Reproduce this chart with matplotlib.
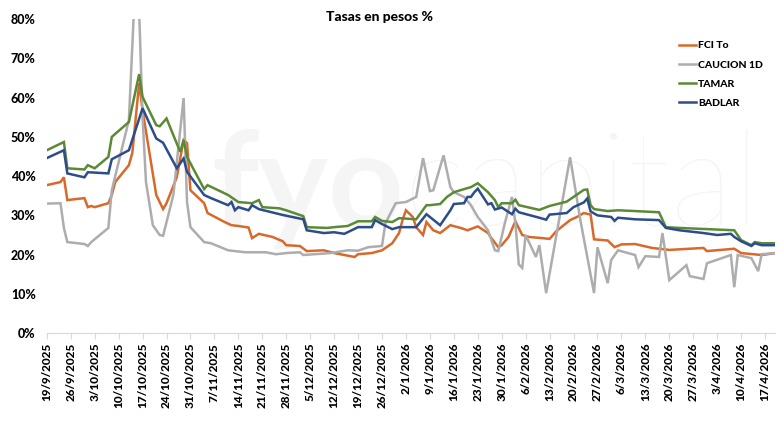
import matplotlib
matplotlib.use("Agg")
import matplotlib.pyplot as plt
from matplotlib.ticker import FuncFormatter, MultipleLocator
import pandas as pd

# datos (% TNA)
fci_fechas = ["2025-09-19", "2025-09-23", "2025-09-24", "2025-09-25", "2025-09-30", "2025-10-01",
              "2025-10-02", "2025-10-03", "2025-10-07", "2025-10-08", "2025-10-09", "2025-10-13",
              "2025-10-14", "2025-10-16", "2025-10-17", "2025-10-21", "2025-10-23", "2025-10-24",
              "2025-10-27", "2025-10-29", "2025-10-30", "2025-10-31", "2025-11-04", "2025-11-05",
              "2025-11-10", "2025-11-12", "2025-11-14", "2025-11-17", "2025-11-18", "2025-11-20",
              "2025-11-24", "2025-11-27", "2025-11-28", "2025-12-02", "2025-12-04", "2025-12-09",
              "2025-12-12", "2025-12-15", "2025-12-18", "2025-12-19", "2025-12-23", "2025-12-26",
              "2025-12-29", "2025-12-31", "2026-01-01", "2026-01-02", "2026-01-04", "2026-01-05",
              "2026-01-07", "2026-01-08", "2026-01-10", "2026-01-12", "2026-01-15", "2026-01-18",
              "2026-01-20", "2026-01-23", "2026-01-26", "2026-01-27", "2026-01-29", "2026-01-30",
              "2026-02-01", "2026-02-03", "2026-02-05", "2026-02-07", "2026-02-11", "2026-02-13",
              "2026-02-15", "2026-02-19", "2026-02-21", "2026-02-23", "2026-02-25", "2026-02-26",
              "2026-03-02", "2026-03-04", "2026-03-06", "2026-03-10", "2026-03-15", "2026-03-20",
              "2026-03-30", "2026-03-31", "2026-04-08", "2026-04-10", "2026-04-16", "2026-04-20"]
fci = [37.7, 38.5, 39.7, 33.9, 34.4, 32.1,
       32.4, 32.1, 33.1, 35.2, 38.5, 42.8,
       45.9, 63.7, 56.8, 35.2, 31.6, 33.1,
       39.7, 49.2, 48.4, 36.4, 33.1, 30.6,
       28.3, 27.5, 27.3, 26.9, 24.2, 25.3,
       24.5, 23.4, 22.4, 22.2, 20.9, 21.1,
       20.4, 19.9, 19.4, 20.1, 20.4, 21.1,
       22.9, 25.5, 28.8, 31.3, 29.6, 27.0,
       25.0, 28.3, 26.2, 25.5, 27.5, 26.8,
       26.2, 27.2, 25.5, 24.2, 21.9, 22.4,
       24.5, 28.5, 25.0, 24.5, 24.2, 24.0,
       26.0, 28.8, 29.6, 30.6, 30.2, 23.9,
       23.6, 21.9, 22.6, 22.7, 21.7, 21.2,
       21.7, 20.9, 21.5, 20.4, 19.9, 20.4]

caucion_fechas = ["2025-09-19", "2025-09-23", "2025-09-24", "2025-09-25", "2025-09-30", "2025-10-01",
                  "2025-10-02", "2025-10-07", "2025-10-08", "2025-10-13", "2025-10-15", "2025-10-16",
                  "2025-10-17", "2025-10-18", "2025-10-20", "2025-10-22", "2025-10-23", "2025-10-26",
                  "2025-10-29", "2025-10-30", "2025-10-31", "2025-11-04", "2025-11-06", "2025-11-11",
                  "2025-11-16", "2025-11-22", "2025-11-25", "2025-11-28", "2025-12-02", "2025-12-03",
                  "2025-12-11", "2025-12-16", "2025-12-19", "2025-12-22", "2025-12-26", "2025-12-27",
                  "2025-12-30", "2026-01-02", "2026-01-05", "2026-01-07", "2026-01-09", "2026-01-10",
                  "2026-01-13", "2026-01-15", "2026-01-16", "2026-01-19", "2026-01-21", "2026-01-23",
                  "2026-01-26", "2026-01-28", "2026-01-29", "2026-01-31", "2026-02-02", "2026-02-03",
                  "2026-02-04", "2026-02-05", "2026-02-06", "2026-02-09", "2026-02-10", "2026-02-12",
                  "2026-02-19", "2026-02-22", "2026-02-26", "2026-02-27", "2026-03-02", "2026-03-03",
                  "2026-03-05", "2026-03-10", "2026-03-11", "2026-03-13", "2026-03-17", "2026-03-18",
                  "2026-03-20", "2026-03-25", "2026-03-26", "2026-03-30", "2026-03-31", "2026-04-07",
                  "2026-04-08", "2026-04-09", "2026-04-13", "2026-04-15", "2026-04-16", "2026-04-20"]
caucion = [33.0, 33.1, 26.8, 23.2, 22.7, 22.2,
           23.2, 26.8, 36.4, 54.3, 92.0, 82.0,
           55.0, 38.5, 27.5, 25.0, 24.8, 35.2,
           59.9, 33.4, 27.0, 23.2, 22.9, 21.1,
           20.6, 20.6, 20.1, 20.4, 20.6, 19.9,
           20.4, 21.1, 21.0, 21.9, 22.2, 28.0,
           33.1, 33.4, 34.7, 44.6, 36.2, 36.4,
           45.3, 37.2, 35.9, 34.7, 32.6, 29.6,
           26.2, 21.1, 20.9, 28.3, 34.7, 28.0,
           17.5, 16.6, 25.0, 19.4, 22.4, 10.2,
           44.8, 28.8, 10.2, 21.9, 12.7, 18.6,
           21.1, 19.9, 16.8, 19.6, 19.4, 25.5,
           13.5, 17.3, 14.5, 13.8, 17.8, 19.9,
           11.7, 19.9, 19.1, 15.8, 20.1, 20.4]

tamar_fechas = ["2025-09-19", "2025-09-24", "2025-09-25", "2025-09-30", "2025-10-01", "2025-10-03",
                "2025-10-07", "2025-10-08", "2025-10-13", "2025-10-16", "2025-10-17", "2025-10-21",
                "2025-10-22", "2025-10-24", "2025-10-28", "2025-10-29", "2025-10-30", "2025-11-04",
                "2025-11-05", "2025-11-11", "2025-11-14", "2025-11-18", "2025-11-20", "2025-11-21",
                "2025-11-26", "2025-11-28", "2025-12-03", "2025-12-04", "2025-12-10", "2025-12-12",
                "2025-12-16", "2025-12-19", "2025-12-23", "2025-12-24", "2025-12-26", "2025-12-29",
                "2025-12-31", "2026-01-05", "2026-01-08", "2026-01-09", "2026-01-12", "2026-01-14",
                "2026-01-16", "2026-01-19", "2026-01-21", "2026-01-23", "2026-01-26", "2026-01-28",
                "2026-01-29", "2026-01-30", "2026-02-02", "2026-02-03", "2026-02-04", "2026-02-10",
                "2026-02-13", "2026-02-18", "2026-02-20", "2026-02-23", "2026-02-24", "2026-02-25",
                "2026-02-26", "2026-03-02", "2026-03-05", "2026-03-10", "2026-03-17", "2026-03-19",
                "2026-03-23", "2026-04-08", "2026-04-10", "2026-04-13", "2026-04-14", "2026-04-16",
                "2026-04-20"]
tamar = [46.6, 48.7, 42.0, 41.7, 42.8, 42.0,
         44.9, 50.0, 53.8, 66.0, 60.2, 53.0,
         52.7, 54.7, 46.2, 49.2, 44.9, 36.7,
         37.7, 35.2, 33.4, 33.1, 33.9, 32.1,
         31.8, 31.3, 29.8, 27.0, 26.8, 27.0,
         27.3, 28.5, 28.5, 29.6, 28.6, 28.3,
         29.3, 29.0, 32.6, 32.6, 32.9, 34.7,
         35.9, 36.7, 37.2, 38.2, 35.9, 33.9,
         32.1, 33.1, 33.1, 34.0, 32.6, 31.4,
         32.4, 33.5, 34.7, 36.5, 36.6, 32.6,
         31.6, 31.1, 31.3, 31.1, 30.8, 27.0,
         26.8, 26.2, 23.7, 22.4, 23.2, 22.9,
         22.9]

badlar_fechas = ["2025-09-19", "2025-09-24", "2025-09-25", "2025-09-30", "2025-10-01", "2025-10-07",
                 "2025-10-08", "2025-10-13", "2025-10-17", "2025-10-21", "2025-10-23", "2025-10-27",
                 "2025-10-29", "2025-10-30", "2025-11-04", "2025-11-06", "2025-11-11", "2025-11-12",
                 "2025-11-13", "2025-11-14", "2025-11-17", "2025-11-18", "2025-11-20", "2025-11-27",
                 "2025-12-03", "2025-12-04", "2025-12-09", "2025-12-12", "2025-12-15", "2025-12-19",
                 "2025-12-23", "2025-12-24", "2025-12-26", "2025-12-29", "2025-12-31", "2026-01-05",
                 "2026-01-08", "2026-01-09", "2026-01-12", "2026-01-15", "2026-01-16", "2026-01-19",
                 "2026-01-20", "2026-01-21", "2026-01-22", "2026-01-23", "2026-01-26", "2026-01-27",
                 "2026-01-28", "2026-01-30", "2026-02-02", "2026-02-03", "2026-02-04", "2026-02-10",
                 "2026-02-12", "2026-02-13", "2026-02-18", "2026-02-20", "2026-02-23", "2026-02-24",
                 "2026-02-25", "2026-02-27", "2026-03-03", "2026-03-04", "2026-03-05", "2026-03-10",
                 "2026-03-17", "2026-03-19", "2026-03-23", "2026-03-30", "2026-04-03", "2026-04-07",
                 "2026-04-08", "2026-04-10", "2026-04-13", "2026-04-14", "2026-04-16", "2026-04-20"]
badlar = [44.6, 46.6, 40.7, 39.7, 41.0, 40.7,
          44.3, 46.6, 57.3, 49.6, 48.5, 42.0,
          44.5, 41.1, 35.2, 34.4, 32.6, 33.4,
          31.3, 32.1, 31.3, 32.6, 31.6, 30.1,
          29.0, 26.2, 25.5, 25.7, 25.3, 27.0,
          27.0, 28.8, 27.8, 26.5, 27.0, 27.0,
          30.3, 29.6, 27.5, 31.3, 32.9, 33.1,
          34.7, 34.7, 35.9, 36.8, 32.8, 33.1,
          31.5, 32.0, 30.3, 31.7, 30.8, 29.4,
          28.9, 30.2, 30.6, 32.1, 33.3, 34.3,
          31.0, 30.0, 29.6, 28.6, 29.4, 29.0,
          28.8, 26.8, 26.2, 25.5, 25.0, 25.3,
          24.5, 23.4, 22.2, 22.9, 22.4, 22.4]

series = [("FCI To", fci_fechas, fci, "#D8692A"),
          ("CAUCION 1D", caucion_fechas, caucion, "#ADADAD"),
          ("TAMAR", tamar_fechas, tamar, "#5A8A36"),
          ("BADLAR", badlar_fechas, badlar, "#2D4C8A")]

plt.rcParams["font.family"] = ["Lato", "DejaVu Sans"]
peso = "black"

fig = plt.figure(figsize=(7.8, 4.36), dpi=100)
ax = fig.add_axes([0.06, 0.236, 0.934, 0.72])

# marca de agua
ax.text(0.49, 0.46, "fyo", transform=ax.transAxes, fontsize=95, fontweight="bold",
        color="#f5f5f5", ha="right", va="center", zorder=0)
ax.text(0.49, 0.46, "capital", transform=ax.transAxes, fontsize=95, fontweight="light",
        color="#f5f5f5", ha="left", va="center", zorder=0)

for nombre, fechas, valores, color in series:
    ax.plot(pd.to_datetime(fechas), valores, color=color, lw=1.8, label=nombre,
            solid_joinstyle="miter", zorder=2)

ax.set_ylim(0, 80)
ax.set_xlim(pd.Timestamp("2025-09-19"), pd.Timestamp("2026-04-20"))
ax.yaxis.set_major_locator(MultipleLocator(10))
ax.yaxis.set_major_formatter(FuncFormatter(lambda v, p: f"{v:.0f}%"))

ticks = pd.date_range("2025-09-19", "2026-04-17", freq="7D")
ax.set_xticks(ticks)
ax.set_xticklabels([f"{d.day}/{d.month}/{d.year}" for d in ticks], rotation=90)
ax.tick_params(axis="x", length=4, color="#d9d9d9", labelsize=8.5, pad=3)
ax.tick_params(axis="y", length=0, labelsize=9, pad=8)
for lbl in ax.get_xticklabels() + ax.get_yticklabels():
    lbl.set_fontweight(peso)

for s in ["top", "right", "left"]:
    ax.spines[s].set_visible(False)
ax.spines["bottom"].set_color("#d9d9d9")

fig.text(0.487, 0.961, "Tasas en pesos %", ha="center", va="center",
         fontsize=10, fontweight=peso)

leg = ax.legend(loc="upper left", bbox_to_anchor=(0.855, 0.96), frameon=False,
                handlelength=1.6, handletextpad=0.2, labelspacing=0.95,
                prop={"weight": peso, "size": 7.5})

fig.savefig("out.png", dpi=100)
